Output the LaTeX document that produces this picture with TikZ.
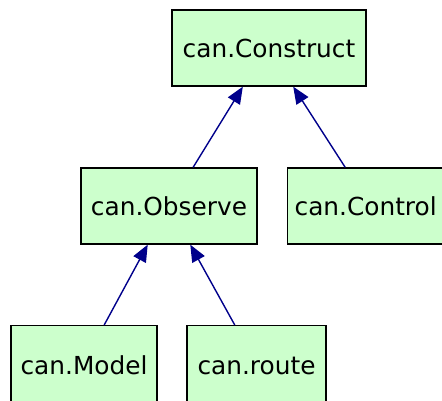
\documentclass[tikz,border=0pt]{standalone}
\usepackage{fontspec}
\setmainfont{DejaVu Sans}
\usetikzlibrary{arrows.meta,calc}
\definecolor{boxfill}{RGB}{204,255,204}
\definecolor{edgeblue}{RGB}{0,0,139}
\tikzset{
  cls/.style={draw=black, line width=1.3pt, fill=boxfill, minimum height=76pt, inner sep=0pt,
    font=\fontsize{24.8}{27}\selectfont},
  inh/.style={draw=edgeblue, line width=1.4pt, -{Triangle[length=17pt,width=14pt]}, color=edgeblue}
}
\begin{document}
\begin{tikzpicture}[x=1pt,y=1pt]
\useasboundingbox (0,0) rectangle (442,400);
\node[cls, minimum width=194pt] (construct) at (269,352) {can.Construct};
\node[cls, minimum width=176pt] (observe) at (169,194) {can.Observe};
\node[cls, minimum width=165pt, anchor=west] (control) at (287,194) {\hspace*{-9pt}can.Control};
\node[cls, minimum width=146pt, minimum height=84pt, anchor=north] (model) at (84,75) {\raisebox{4.5pt}{can.Model}};
\node[cls, minimum width=139pt, minimum height=84pt, anchor=north] (route) at (256.5,75) {\raisebox{4.5pt}{can.route}};
\draw[inh] ($(observe.north west)!0.636!(observe.north east)$) -- ($(construct.south west)!0.366!(construct.south east)$);
\draw[inh] ($(control.north west)!0.35!(control.north east)$) -- ($(construct.south west)!0.624!(construct.south east)$);
\draw[inh] ($(model.north west)!0.637!(model.north east)$) -- ($(observe.south west)!0.38!(observe.south east)$);
\draw[inh] ($(route.north west)!0.345!(route.north east)$) -- ($(observe.south west)!0.62!(observe.south east)$);
\end{tikzpicture}
\end{document}
